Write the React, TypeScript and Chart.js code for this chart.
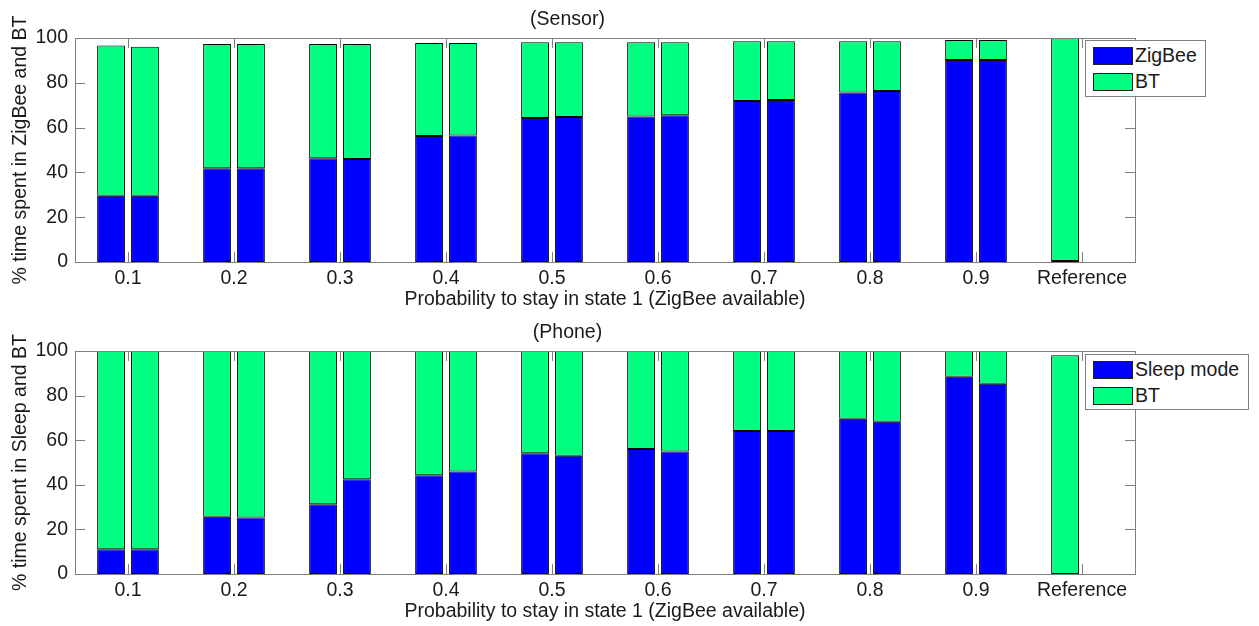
import React, { useEffect, useRef } from 'react';
import { Chart, registerables } from 'chart.js';
Chart.register(...registerables);

const categories = ['0.1', '0.2', '0.3', '0.4', '0.5', '0.6', '0.7', '0.8', '0.9', 'Reference'];
const yTicks = [0, 20, 40, 60, 80, 100];

// Sensor (top panel): two bars per category (a = left, b = right)
const sensorZigbeeA = [29.6, 41.8, 46.3, 56.3, 64.3, 65.0, 71.9, 75.7, 90.2, 0.5];
const sensorBtA = [67.1, 55.5, 51.0, 41.5, 33.8, 33.1, 26.6, 22.8, 8.9, 99.5];
const sensorZigbeeB = [29.6, 41.8, 46.0, 56.5, 64.7, 65.5, 72.3, 76.3, 90.2, null];
const sensorBtB = [66.5, 55.5, 51.3, 41.3, 33.4, 32.6, 26.2, 22.2, 8.9, null];

// Phone (bottom panel)
const phoneSleepA = [11.1, 25.7, 31.3, 44.3, 54.2, 56.1, 64.1, 69.6, 88.5, 0];
const phoneBtA = [88.9, 74.3, 68.7, 55.7, 45.8, 43.9, 35.9, 30.4, 11.5, 98.1];
const phoneSleepB = [11.1, 25.3, 42.5, 46.0, 53.0, 54.9, 64.1, 68.3, 85.3, null];
const phoneBtB = [88.9, 74.7, 57.5, 54.0, 47.0, 45.1, 35.9, 31.7, 14.7, null];

const BLUE = 'rgb(0,0,255)';
const GREEN = 'rgb(0,255,128)';
const FONT = 'Liberation Sans, Arial, Helvetica, sans-serif';
const FS = 19.5;
const TEXT = '#1a1a1a';
const AXIS = '#7f7f7f';

const matlabAxes = {
  id: 'matlabAxes',
  afterDatasetsDraw(chart: any) {
    const { ctx, chartArea, scales } = chart;
    const { left, right, top, bottom } = chartArea;
    const L = 10;
    ctx.save();
    ctx.strokeStyle = AXIS;
    ctx.lineWidth = 1;
    ctx.beginPath();
    scales.y.ticks.forEach((t: any) => {
      const py = Math.round(scales.y.getPixelForValue(t.value)) + 0.5;
      ctx.moveTo(left, py);
      ctx.lineTo(left + L, py);
      ctx.moveTo(right, py);
      ctx.lineTo(right - L, py);
    });
    scales.x.ticks.forEach((_t: any, i: number) => {
      const px = Math.round(scales.x.getPixelForTick(i)) + 0.5;
      ctx.moveTo(px, bottom);
      ctx.lineTo(px, bottom - L);
      ctx.moveTo(px, top);
      ctx.lineTo(px, top + L);
    });
    ctx.stroke();
    ctx.strokeRect(Math.round(left) + 0.5, Math.round(top) + 0.5, Math.round(right - left), Math.round(bottom - top));
    ctx.restore();
  },
};

type PanelProps = {
  height: number;
  title: string;
  yTitle: string;
  lowLabel: string;
  lowA: (number | null)[];
  btA: (number | null)[];
  lowB: (number | null)[];
  btB: (number | null)[];
  titlePad: { top: number; bottom: number };
  xAxisHeight: number;
  xTitlePadBottom: number;
};

function Panel(p: PanelProps) {
  const ref = useRef<HTMLCanvasElement>(null);
  useEffect(() => {
    if (!ref.current) return;
    const ds = (label: string, data: (number | null)[], color: string, stack: string) => ({
      label,
      data,
      backgroundColor: color,
      borderColor: '#000000',
      borderWidth: 1,
      borderSkipped: false,
      stack,
      categoryPercentage: 0.64,
      barPercentage: 0.82,
    });
    const chart = new Chart(ref.current, {
      type: 'bar',
      data: {
        labels: categories,
        datasets: [
          ds(p.lowLabel, p.lowA, BLUE, 'a'),
          ds('BT', p.btA, GREEN, 'a'),
          ds(p.lowLabel + ' ', p.lowB, BLUE, 'b'),
          ds('BT ', p.btB, GREEN, 'b'),
        ],
      },
      options: {
        animation: false,
        responsive: false,
        maintainAspectRatio: false,
        layout: { padding: { left: 0, right: 124, top: 0, bottom: 0 } },
        plugins: {
          legend: { display: false },
          tooltip: { enabled: false },
          title: {
            display: true,
            text: p.title,
            color: TEXT,
            font: { family: FONT, size: FS, weight: 'normal', lineHeight: 1.0 },
            padding: p.titlePad,
          },
        },
        scales: {
          x: {
            stacked: true,
            offset: true,
            grid: { display: false, drawTicks: false },
            border: { display: false },
            ticks: { color: TEXT, font: { family: FONT, size: FS }, padding: 5, maxRotation: 0, autoSkip: false },
            title: {
              display: true,
              text: 'Probability to stay in state 1 (ZigBee available)',
              color: TEXT,
              font: { family: FONT, size: FS, lineHeight: 1.0 },
              padding: { top: 0, bottom: p.xTitlePadBottom },
            },
            afterFit: (s: any) => {
              s.height = p.xAxisHeight;
            },
          },
          y: {
            stacked: true,
            min: 0,
            max: 100,
            grid: { display: false, drawTicks: false },
            border: { display: false },
            afterBuildTicks: (s: any) => {
              s.ticks = yTicks.map((v) => ({ value: v }));
            },
            ticks: { color: TEXT, font: { family: FONT, size: FS }, padding: 7 },
            title: {
              display: true,
              text: p.yTitle,
              color: TEXT,
              font: { family: FONT, size: FS, lineHeight: 1.0 },
              padding: { top: 10.5, bottom: 0 },
            },
            afterFit: (s: any) => {
              s.width = 75;
            },
          },
        },
      } as any,
      plugins: [matlabAxes],
    });
    return () => chart.destroy();
  }, []);
  return <canvas ref={ref} width={1259} height={p.height} style={{ display: 'block', width: 1259, height: p.height }} />;
}

function Legend({ left, top, width, height, items }: { left: number; top: number; width: number; height: number; items: { label: string; color: string }[] }) {
  return (
    <div
      style={{
        position: 'absolute',
        left,
        top,
        width,
        height,
        boxSizing: 'border-box',
        border: `1px solid ${AXIS}`,
        background: '#fff',
        fontFamily: FONT,
        fontSize: FS,
        color: TEXT,
      }}
    >
      {items.map((it, i) => (
        <div key={i} style={{ position: 'absolute', left: 7, top: 5 + i * 26, height: 19, display: 'flex', alignItems: 'center', whiteSpace: 'nowrap' }}>
          <div style={{ width: 40, height: 18, boxSizing: 'border-box', background: it.color, border: '1px solid #222', marginRight: 2 }} />
          <span>{it.label}</span>
        </div>
      ))}
    </div>
  );
}

export default function App() {
  return (
    <div style={{ position: 'fixed', left: 0, top: 0, width: 1259, height: 626, background: '#fff', overflow: 'hidden' }}>
      <div style={{ position: 'absolute', left: 0, top: 0 }}>
        <Panel
          height={310}
          title="(Sensor)"
          yTitle="% time spent in ZigBee and BT"
          lowLabel="ZigBee"
          lowA={sensorZigbeeA}
          btA={sensorBtA}
          lowB={sensorZigbeeB}
          btB={sensorBtB}
          titlePad={{ top: 10.25, bottom: 8.25 }}
          xAxisHeight={48}
          xTitlePadBottom={0.25}
        />
      </div>
      <div style={{ position: 'absolute', left: 0, top: 310 }}>
        <Panel
          height={316}
          title="(Phone)"
          yTitle="% time spent in Sleep and BT"
          lowLabel="Sleep mode"
          lowA={phoneSleepA}
          btA={phoneBtA}
          lowB={phoneSleepB}
          btB={phoneBtB}
          titlePad={{ top: 13.25, bottom: 8.25 }}
          xAxisHeight={52}
          xTitlePadBottom={4.25}
        />
      </div>
      <Legend left={1085} top={40} width={121} height={57} items={[{ label: 'ZigBee', color: BLUE }, { label: 'BT', color: GREEN }]} />
      <Legend left={1085} top={354} width={164} height={56} items={[{ label: 'Sleep mode', color: BLUE }, { label: 'BT', color: GREEN }]} />
    </div>
  );
}
